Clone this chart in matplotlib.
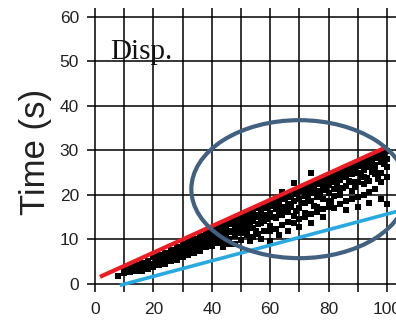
import matplotlib.pyplot as plt
from matplotlib.patches import Ellipse

# -----------------------------
# Data
# -----------------------------
pts_x = [8, 10, 10, 12, 12, 13, 14, 14, 16, 16, 16, 18, 18, 18, 20, 20, 20,
         22, 22, 22, 24, 24, 24, 26, 26, 26, 28, 28, 28, 30, 30, 30, 30,
         32, 32, 32, 34, 34, 34, 34, 36, 36, 36, 38, 38, 38, 38,
         40, 40, 40, 40, 42, 42, 42, 44, 44, 44, 44, 46, 46, 46, 46,
         48, 48, 48, 48, 50, 50, 50, 50, 52, 52, 52, 52, 54, 54, 54, 54,
         56, 56, 56, 56, 58, 58, 58, 58, 60, 60, 60, 60, 62, 62, 62, 62,
         64, 64, 64, 64, 64, 66, 66, 66, 66, 68, 68, 68, 68, 68,
         70, 70, 70, 70, 72, 72, 72, 72, 72, 74, 74, 74, 74, 74,
         76, 76, 76, 76, 76, 78, 78, 78, 78, 80, 80, 80, 80, 80,
         82, 82, 82, 82, 82, 84, 84, 84, 84, 84, 86, 86, 86, 86, 86,
         88, 88, 88, 88, 88, 90, 90, 90, 90, 90, 92, 92, 92, 92, 92,
         94, 94, 94, 94, 94, 96, 96, 96, 96, 96, 98, 98, 98, 98, 98,
         100, 100, 100, 100, 100,
         11, 15, 17, 19, 21, 23, 25, 27, 29, 31, 31, 33, 33, 35, 35, 37, 37,
         39, 39, 41, 41, 43, 43, 45, 45, 47, 47, 49, 49, 51, 51, 53, 53,
         55, 55, 57, 57, 59, 59, 61, 61, 63, 63, 65, 65, 67, 67, 69, 69,
         71, 71, 73, 73, 75, 75, 77, 77, 79, 79, 81, 81, 83, 83, 85, 85,
         87, 87, 89, 89, 91, 91, 93, 93, 95, 95, 97, 97, 99, 99,
         44, 48, 53, 57, 60, 63, 66, 70, 74, 78]
pts_y = [1.8, 2.5, 3.4, 2.8, 3.9, 3.3, 3.0, 4.2, 3.6, 4.8, 2.9, 4.0, 5.2, 3.4, 4.5, 6.0, 3.8,
         5.0, 6.4, 4.2, 5.6, 7.0, 4.6, 6.0, 7.6, 5.1, 6.6, 8.2, 5.5, 7.0, 9.0, 6.0, 8.0,
         7.6, 9.6, 6.4, 8.4, 10.2, 7.0, 9.2, 8.8, 10.8, 7.5, 9.5, 11.6, 8.2, 10.5,
         10.0, 12.2, 8.6, 11.2, 10.8, 12.8, 9.2, 11.4, 13.5, 9.6, 12.3, 12.0, 14.0, 10.0, 9.0,
         12.5, 14.6, 10.8, 13.5, 13.2, 15.2, 11.4, 9.8, 13.8, 15.8, 11.0, 12.2, 14.2, 16.3, 12.6, 10.5,
         15.0, 17.0, 13.4, 11.2, 15.5, 17.6, 12.0, 14.2, 16.0, 18.2, 13.0, 11.8, 16.8, 18.8, 14.8, 12.4,
         17.2, 19.4, 15.5, 13.2, 20.6, 18.0, 20.0, 16.2, 14.0, 18.6, 20.6, 15.2, 13.8, 22.6,
         19.2, 21.2, 17.0, 14.6, 19.8, 21.8, 16.0, 18.2, 15.0, 20.4, 22.4, 18.6, 15.8, 25.0,
         21.0, 23.0, 17.4, 19.6, 16.2, 21.6, 23.6, 19.0, 16.8, 22.2, 24.2, 20.4, 17.4, 18.6,
         22.8, 24.8, 19.8, 17.0, 21.4, 23.4, 25.4, 21.2, 18.0, 20.0, 24.0, 26.0, 22.0, 18.6, 16.6,
         24.6, 26.6, 21.0, 19.2, 22.8, 25.0, 27.2, 23.0, 19.6, 17.4, 25.6, 27.8, 22.4, 20.0, 24.0,
         26.2, 28.4, 23.2, 20.6, 18.2, 26.8, 29.0, 24.6, 21.4, 25.6, 27.4, 29.4, 22.8, 25.0, 19.0,
         28.0, 29.8, 24.0, 26.2, 18.0,
         3.0, 3.8, 4.4, 4.6, 5.6, 5.2, 6.4, 7.0, 7.4, 8.6, 7.0, 8.2, 9.4, 9.6, 8.0, 10.0, 8.8,
         11.0, 9.4, 11.6, 9.8, 12.2, 10.2, 12.8, 11.0, 13.4, 11.6, 14.0, 12.0, 14.6, 12.6, 15.0, 13.0,
         15.6, 11.8, 16.4, 13.6, 17.0, 14.6, 17.6, 15.0, 18.2, 16.0, 19.0, 16.6, 19.6, 17.2, 20.2, 16.4,
         20.8, 18.2, 21.2, 19.0, 21.8, 17.6, 22.4, 20.2, 23.0, 21.2, 23.6, 18.4, 24.2, 22.2, 24.8, 21.6,
         25.4, 23.2, 26.0, 21.8, 26.4, 24.2, 27.0, 23.8, 27.6, 25.2, 28.2, 23.6, 28.8, 27.0,
         8.4, 9.0, 9.6, 10.2, 9.6, 11.0, 12.0, 12.8, 13.6, 15.0]

red_x = [1.7, 100]
red_y = [1.6, 30.8]
blue_x = [8.5, 104]
blue_y = [-0.3, 16.4]

ellipse_center = (70, 21.3)
ellipse_w = 74
ellipse_h = 31

x_ticks = [0, 20, 40, 60, 80, 100]
y_ticks = [0, 10, 20, 30, 40, 50, 60]

# -----------------------------
# Figure
# -----------------------------
fig = plt.figure(figsize=(3.96, 3.22), dpi=100)
ax = fig.add_axes([87 / 396, 30 / 322, 309 / 396, 284 / 322])
ax.set_xlim(-2.74, 103.1)
ax.set_ylim(-1.8, 62.0)

for s in ax.spines.values():
    s.set_visible(False)

ax.set_xticks(x_ticks)
ax.set_xticks(range(10, 101, 20), minor=True)
ax.set_yticks(y_ticks)
ax.grid(True, which="both", color="black", linewidth=1.1)
ax.set_axisbelow(True)
ax.tick_params(which="both", length=0)
ax.tick_params(axis="x", pad=7, labelsize=12.5, labelcolor="#222222")
ax.tick_params(axis="y", pad=5.8, labelsize=12.5, labelcolor="#222222")
for lab in ax.get_xticklabels() + ax.get_yticklabels():
    lab.set_family("Liberation Sans")

ax.scatter(pts_x, pts_y, marker="s", s=14, color="black", linewidths=0, zorder=3)
ax.plot(red_x, red_y, color="#ec1c24", linewidth=3, solid_capstyle="butt", zorder=4)
ax.plot(blue_x, blue_y, color="#29a9e0", linewidth=2.6, solid_capstyle="butt", zorder=4)

ell = Ellipse(ellipse_center, ellipse_w, ellipse_h, fill=False,
              edgecolor="#42607f", linewidth=3, zorder=5)
ax.add_patch(ell)

ax.text(5.1, 50.6, "Disp.", family="Liberation Serif", fontsize=21,
        va="baseline", ha="left", color="#111111", zorder=6)

fig.text(35 / 396, 1 - 152 / 322, "Time (s)", rotation=90, family="Liberation Sans",
         fontsize=25, va="center", ha="center", color="#222222")

fig.savefig("out.png", dpi=100)
